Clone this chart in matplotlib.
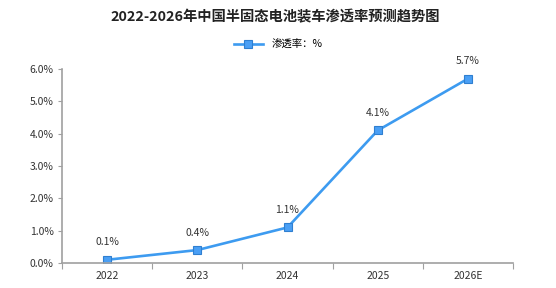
import matplotlib.pyplot as plt
from matplotlib.ticker import FixedLocator, FuncFormatter

plt.rcParams['font.family'] = ['Noto Sans CJK SC', 'DejaVu Sans']

years = ["2022", "2023", "2024", "2025", "2026E"]
rate = [0.1, 0.4, 1.1, 4.1, 5.7]
title = "2022-2026年中国半固态电池装车渗透率预测趋势图"
series_name = "渗透率：%"

fig = plt.figure(figsize=(5.56, 2.88), dpi=100)
ax = fig.add_axes([0.1115, 0.0868, 0.8112, 0.6736])

x = list(range(len(years)))
ax.plot(x, rate, color="#3d9bf0", lw=1.9, marker="s", ms=6,
        markerfacecolor="#4a9ff5", markeredgecolor="#2f7fd0", mew=0.8,
        label=series_name)
for xi, v in zip(x, rate):
    ax.annotate(f"{v:.1f}%", (xi, v), xytext=(0, 9), textcoords="offset points",
                ha="center", va="bottom", fontsize=7.5, color="#333333")

ax.set_xlim(-0.5, len(years) - 0.5)
ax.set_ylim(0, 6)
ax.set_yticks([0, 1, 2, 3, 4, 5, 6])
ax.yaxis.set_major_formatter(FuncFormatter(lambda v, p: f"{v:.1f}%"))
ax.xaxis.set_major_locator(FixedLocator([i - 0.5 for i in range(len(years) + 1)]))
ax.xaxis.set_major_formatter(FuncFormatter(lambda v, p: ""))
ax.set_xticks(x, minor=True)
ax.set_xticklabels(years, minor=True)
ax.tick_params(axis="x", which="minor", length=0, pad=6, labelsize=7.5, labelcolor="#333333")
ax.tick_params(axis="x", which="major", length=4, color="#a0a0a0", direction="out")
ax.tick_params(axis="y", length=3, color="#a0a0a0", labelsize=7.5, labelcolor="#333333", pad=3)

for s in ["top", "right"]:
    ax.spines[s].set_visible(False)
for s in ["left", "bottom"]:
    ax.spines[s].set_color("#a0a0a0")
    ax.spines[s].set_linewidth(1.2)

fig.text(0.495, 0.94, title, ha="center", va="center", fontsize=10.3, fontweight="bold", color="#222222")
fig.legend(loc="center", bbox_to_anchor=(0.5, 0.845), frameon=False, fontsize=7.5,
           handlelength=2.8, markerscale=1.0)

fig.savefig("out.png", dpi=100)
